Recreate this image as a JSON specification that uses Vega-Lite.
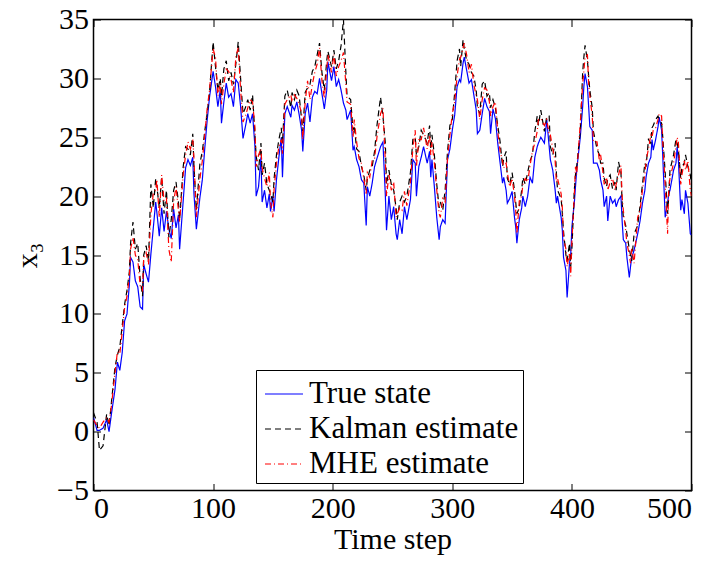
{
  "$schema": "https://vega.github.io/schema/vega-lite/v6.json",
  "autosize": "none",
  "width": 598,
  "height": 471,
  "padding": {"left": 93.5, "top": 19.5, "right": 28.5, "bottom": 71.5},
  "background": "white",
  "config": {
    "view": {"stroke": "black", "strokeWidth": 1.5},
    "font": "Liberation Serif",
    "axis": {"grid": false, "domain": false, "tickColor": "black", "tickWidth": 1, "labelFont": "Liberation Serif", "labelFontSize": 30, "labelColor": "black", "titleFont": "Liberation Serif", "titleFontSize": 30, "titleColor": "black", "titleFontWeight": "normal"},
    "legend": {"strokeColor": "black", "fillColor": "white", "padding": 4, "rowPadding": -1, "labelFont": "Liberation Serif", "labelFontSize": 31, "labelColor": "black", "symbolType": "stroke", "symbolSize": 1444, "symbolStrokeWidth": 1.2, "symbolOffset": 4, "labelOffset": 5, "labelLimit": 400}
  },
  "data": {"values": [
{"t":0,"true":1.2,"kalman":1.6,"mhe":1.0},
{"t":3,"true":0.1,"kalman":0.8,"mhe":0.5},
{"t":5,"true":0.1,"kalman":-1.6,"mhe":0.3},
{"t":8,"true":0.3,"kalman":-1.2,"mhe":0.8},
{"t":11,"true":1.0,"kalman":1.5,"mhe":1.2},
{"t":13,"true":0.0,"kalman":0.5,"mhe":0.8},
{"t":15,"true":1.5,"kalman":2.5,"mhe":2.2},
{"t":18,"true":3.6,"kalman":5.5,"mhe":5.0},
{"t":20,"true":5.9,"kalman":6.5,"mhe":6.8},
{"t":22,"true":5.2,"kalman":7.2,"mhe":6.6},
{"t":24,"true":6.7,"kalman":9.0,"mhe":8.5},
{"t":26,"true":9.4,"kalman":10.8,"mhe":10.5},
{"t":28,"true":10.0,"kalman":12.0,"mhe":11.5},
{"t":30,"true":12.5,"kalman":13.6,"mhe":13.2},
{"t":31,"true":14.8,"kalman":16.0,"mhe":15.5},
{"t":33,"true":14.4,"kalman":17.8,"mhe":16.5},
{"t":35,"true":12.8,"kalman":15.5,"mhe":15.0},
{"t":37,"true":12.3,"kalman":16.0,"mhe":14.6},
{"t":39,"true":10.6,"kalman":13.0,"mhe":12.4},
{"t":41,"true":10.4,"kalman":11.5,"mhe":12.0},
{"t":42,"true":14.2,"kalman":15.0,"mhe":14.8},
{"t":44,"true":13.4,"kalman":15.8,"mhe":15.2},
{"t":46,"true":12.7,"kalman":14.5,"mhe":14.2},
{"t":48,"true":15.1,"kalman":21.0,"mhe":18.5},
{"t":50,"true":17.3,"kalman":19.0,"mhe":20.2},
{"t":52,"true":19.5,"kalman":21.5,"mhe":20.5},
{"t":53,"true":18.6,"kalman":20.8,"mhe":21.4},
{"t":55,"true":16.6,"kalman":19.0,"mhe":18.2},
{"t":57,"true":19.0,"kalman":21.6,"mhe":21.8},
{"t":59,"true":17.0,"kalman":18.5,"mhe":19.6},
{"t":61,"true":18.7,"kalman":20.5,"mhe":19.8},
{"t":63,"true":17.2,"kalman":16.5,"mhe":15.5},
{"t":65,"true":16.4,"kalman":18.0,"mhe":14.4},
{"t":67,"true":18.9,"kalman":20.5,"mhe":19.5},
{"t":69,"true":17.3,"kalman":21.2,"mhe":20.8},
{"t":71,"true":18.4,"kalman":19.5,"mhe":18.8},
{"t":72,"true":15.5,"kalman":18.0,"mhe":17.8},
{"t":75,"true":19.6,"kalman":22.5,"mhe":21.8},
{"t":77,"true":22.4,"kalman":24.2,"mhe":23.5},
{"t":79,"true":23.1,"kalman":24.0,"mhe":24.6},
{"t":81,"true":22.6,"kalman":23.5,"mhe":24.0},
{"t":83,"true":23.3,"kalman":25.3,"mhe":24.8},
{"t":84,"true":20.2,"kalman":22.5,"mhe":23.2},
{"t":86,"true":17.2,"kalman":18.8,"mhe":18.2},
{"t":89,"true":19.9,"kalman":22.8,"mhe":21.5},
{"t":91,"true":21.4,"kalman":23.8,"mhe":23.0},
{"t":93,"true":24.0,"kalman":25.5,"mhe":25.2},
{"t":95,"true":26.4,"kalman":27.0,"mhe":27.4},
{"t":97,"true":28.4,"kalman":28.8,"mhe":29.0},
{"t":100,"true":30.6,"kalman":33.1,"mhe":32.5},
{"t":102,"true":29.3,"kalman":31.0,"mhe":31.8},
{"t":104,"true":27.6,"kalman":29.0,"mhe":28.5},
{"t":106,"true":29.0,"kalman":30.0,"mhe":29.6},
{"t":107,"true":26.2,"kalman":28.5,"mhe":27.8},
{"t":109,"true":28.0,"kalman":30.8,"mhe":29.5},
{"t":111,"true":29.6,"kalman":31.5,"mhe":30.8},
{"t":113,"true":28.4,"kalman":29.8,"mhe":30.6},
{"t":115,"true":28.7,"kalman":30.5,"mhe":29.9},
{"t":117,"true":27.6,"kalman":29.5,"mhe":28.8},
{"t":119,"true":29.9,"kalman":31.2,"mhe":31.8},
{"t":121,"true":29.6,"kalman":33.1,"mhe":32.6},
{"t":123,"true":27.6,"kalman":30.0,"mhe":29.0},
{"t":125,"true":24.9,"kalman":27.0,"mhe":26.3},
{"t":127,"true":25.9,"kalman":27.5,"mhe":26.8},
{"t":129,"true":27.0,"kalman":28.2,"mhe":27.5},
{"t":131,"true":26.2,"kalman":27.3,"mhe":28.2},
{"t":133,"true":27.0,"kalman":28.6,"mhe":28.0},
{"t":135,"true":24.2,"kalman":25.2,"mhe":25.8},
{"t":136,"true":20.0,"kalman":23.4,"mhe":22.5},
{"t":138,"true":20.8,"kalman":22.2,"mhe":23.5},
{"t":140,"true":23.3,"kalman":24.5,"mhe":24.0},
{"t":141,"true":19.5,"kalman":21.8,"mhe":22.4},
{"t":143,"true":20.5,"kalman":22.8,"mhe":21.5},
{"t":145,"true":19.0,"kalman":21.0,"mhe":20.8},
{"t":147,"true":20.2,"kalman":20.5,"mhe":22.0},
{"t":148,"true":18.7,"kalman":20.2,"mhe":19.5},
{"t":150,"true":20.0,"kalman":19.5,"mhe":18.2},
{"t":151,"true":18.7,"kalman":21.5,"mhe":20.6},
{"t":153,"true":21.4,"kalman":23.5,"mhe":22.8},
{"t":155,"true":23.3,"kalman":24.8,"mhe":24.2},
{"t":157,"true":25.0,"kalman":25.8,"mhe":24.8},
{"t":158,"true":21.6,"kalman":24.5,"mhe":23.6},
{"t":160,"true":27.0,"kalman":28.5,"mhe":27.8},
{"t":162,"true":27.6,"kalman":29.0,"mhe":28.2},
{"t":165,"true":26.7,"kalman":27.5,"mhe":28.6},
{"t":166,"true":27.7,"kalman":28.8,"mhe":28.0},
{"t":168,"true":27.3,"kalman":28.2,"mhe":28.6},
{"t":170,"true":28.0,"kalman":29.0,"mhe":28.3},
{"t":172,"true":26.9,"kalman":28.5,"mhe":27.8},
{"t":174,"true":25.6,"kalman":26.5,"mhe":27.0},
{"t":175,"true":23.8,"kalman":25.5,"mhe":24.8},
{"t":177,"true":27.0,"kalman":28.8,"mhe":28.0},
{"t":179,"true":27.9,"kalman":29.2,"mhe":29.8},
{"t":181,"true":26.3,"kalman":29.5,"mhe":28.2},
{"t":183,"true":28.4,"kalman":30.6,"mhe":29.5},
{"t":185,"true":28.9,"kalman":31.0,"mhe":30.5},
{"t":187,"true":28.7,"kalman":32.0,"mhe":31.2},
{"t":189,"true":30.0,"kalman":33.0,"mhe":32.6},
{"t":191,"true":28.7,"kalman":30.5,"mhe":29.8},
{"t":193,"true":27.4,"kalman":29.0,"mhe":28.3},
{"t":195,"true":29.0,"kalman":31.5,"mhe":30.8},
{"t":196,"true":31.4,"kalman":32.3,"mhe":32.0},
{"t":199,"true":29.8,"kalman":31.0,"mhe":30.5},
{"t":201,"true":31.0,"kalman":32.4,"mhe":32.0},
{"t":203,"true":29.3,"kalman":30.8,"mhe":30.2},
{"t":205,"true":29.9,"kalman":31.5,"mhe":31.0},
{"t":207,"true":29.0,"kalman":32.8,"mhe":31.5},
{"t":209,"true":27.9,"kalman":35.0,"mhe":32.2},
{"t":211,"true":27.3,"kalman":30.5,"mhe":29.5},
{"t":212,"true":26.5,"kalman":28.5,"mhe":28.0},
{"t":215,"true":27.3,"kalman":28.2,"mhe":27.8},
{"t":217,"true":23.9,"kalman":25.6,"mhe":25.0},
{"t":218,"true":24.2,"kalman":26.0,"mhe":26.5},
{"t":220,"true":23.1,"kalman":24.0,"mhe":24.6},
{"t":222,"true":22.5,"kalman":23.8,"mhe":23.2},
{"t":224,"true":21.4,"kalman":22.5,"mhe":22.8},
{"t":226,"true":21.1,"kalman":21.8,"mhe":21.5},
{"t":228,"true":17.5,"kalman":20.5,"mhe":20.2},
{"t":229,"true":20.8,"kalman":21.5,"mhe":22.0},
{"t":231,"true":20.0,"kalman":22.2,"mhe":21.6},
{"t":233,"true":21.1,"kalman":22.5,"mhe":23.0},
{"t":235,"true":22.5,"kalman":23.8,"mhe":23.2},
{"t":237,"true":23.2,"kalman":26.0,"mhe":25.0},
{"t":240,"true":24.2,"kalman":28.4,"mhe":27.0},
{"t":242,"true":24.6,"kalman":26.8,"mhe":27.5},
{"t":244,"true":20.1,"kalman":24.5,"mhe":23.0},
{"t":245,"true":17.1,"kalman":21.0,"mhe":20.0},
{"t":247,"true":20.0,"kalman":22.2,"mhe":21.8},
{"t":249,"true":18.0,"kalman":21.0,"mhe":20.5},
{"t":251,"true":19.1,"kalman":20.5,"mhe":21.2},
{"t":253,"true":16.8,"kalman":19.0,"mhe":18.2},
{"t":254,"true":16.3,"kalman":18.0,"mhe":18.5},
{"t":256,"true":18.0,"kalman":19.5,"mhe":19.0},
{"t":258,"true":16.8,"kalman":20.0,"mhe":18.8},
{"t":260,"true":19.1,"kalman":19.5,"mhe":20.4},
{"t":262,"true":18.0,"kalman":20.0,"mhe":19.2},
{"t":265,"true":19.7,"kalman":22.0,"mhe":21.2},
{"t":267,"true":23.1,"kalman":24.8,"mhe":24.0},
{"t":269,"true":22.8,"kalman":25.0,"mhe":25.6},
{"t":270,"true":20.0,"kalman":23.5,"mhe":22.5},
{"t":272,"true":22.5,"kalman":24.2,"mhe":24.8},
{"t":274,"true":23.3,"kalman":25.6,"mhe":24.8},
{"t":276,"true":24.2,"kalman":25.2,"mhe":25.8},
{"t":279,"true":22.8,"kalman":24.5,"mhe":24.0},
{"t":281,"true":23.8,"kalman":26.0,"mhe":25.2},
{"t":282,"true":21.6,"kalman":24.0,"mhe":23.5},
{"t":283,"true":23.1,"kalman":25.2,"mhe":24.6},
{"t":285,"true":20.8,"kalman":23.5,"mhe":22.8},
{"t":287,"true":18.2,"kalman":21.0,"mhe":20.5},
{"t":289,"true":16.3,"kalman":19.0,"mhe":18.5},
{"t":290,"true":17.4,"kalman":19.5,"mhe":18.2},
{"t":292,"true":18.0,"kalman":18.8,"mhe":19.8},
{"t":294,"true":17.7,"kalman":20.5,"mhe":19.5},
{"t":296,"true":23.1,"kalman":23.8,"mhe":23.2},
{"t":298,"true":24.0,"kalman":26.0,"mhe":25.2},
{"t":300,"true":25.6,"kalman":26.5,"mhe":27.0},
{"t":302,"true":26.9,"kalman":28.8,"mhe":28.0},
{"t":304,"true":29.3,"kalman":31.5,"mhe":30.2},
{"t":306,"true":29.9,"kalman":32.5,"mhe":31.6},
{"t":307,"true":29.7,"kalman":31.0,"mhe":31.8},
{"t":309,"true":31.3,"kalman":33.3,"mhe":32.6},
{"t":310,"true":31.8,"kalman":32.5,"mhe":33.0},
{"t":312,"true":30.7,"kalman":31.5,"mhe":32.0},
{"t":314,"true":29.6,"kalman":31.2,"mhe":30.5},
{"t":316,"true":29.9,"kalman":30.5,"mhe":31.2},
{"t":318,"true":28.6,"kalman":30.2,"mhe":29.5},
{"t":320,"true":27.3,"kalman":29.0,"mhe":28.5},
{"t":321,"true":25.3,"kalman":27.5,"mhe":28.2},
{"t":323,"true":25.6,"kalman":27.0,"mhe":26.5},
{"t":325,"true":27.0,"kalman":29.5,"mhe":28.2},
{"t":327,"true":28.3,"kalman":29.8,"mhe":29.2},
{"t":329,"true":27.6,"kalman":28.5,"mhe":29.0},
{"t":331,"true":27.2,"kalman":28.8,"mhe":28.0},
{"t":332,"true":25.3,"kalman":27.5,"mhe":26.8},
{"t":334,"true":27.4,"kalman":28.2,"mhe":27.6},
{"t":336,"true":26.6,"kalman":27.5,"mhe":28.0},
{"t":338,"true":24.5,"kalman":26.0,"mhe":25.5},
{"t":340,"true":22.8,"kalman":24.6,"mhe":23.8},
{"t":342,"true":21.1,"kalman":22.5,"mhe":23.0},
{"t":343,"true":21.6,"kalman":23.2,"mhe":22.4},
{"t":345,"true":20.5,"kalman":23.8,"mhe":22.8},
{"t":346,"true":19.4,"kalman":21.5,"mhe":22.0},
{"t":348,"true":19.8,"kalman":21.0,"mhe":20.8},
{"t":350,"true":20.4,"kalman":22.0,"mhe":21.5},
{"t":352,"true":18.2,"kalman":20.5,"mhe":20.0},
{"t":353,"true":17.4,"kalman":19.5,"mhe":18.8},
{"t":354,"true":16.0,"kalman":18.5,"mhe":16.8},
{"t":356,"true":18.0,"kalman":19.0,"mhe":19.6},
{"t":358,"true":19.0,"kalman":20.5,"mhe":20.0},
{"t":359,"true":20.0,"kalman":21.6,"mhe":21.0},
{"t":361,"true":19.1,"kalman":21.0,"mhe":21.5},
{"t":363,"true":20.0,"kalman":22.0,"mhe":21.2},
{"t":365,"true":21.6,"kalman":23.0,"mhe":22.6},
{"t":367,"true":21.1,"kalman":23.5,"mhe":23.8},
{"t":369,"true":23.3,"kalman":25.5,"mhe":24.5},
{"t":371,"true":24.2,"kalman":26.8,"mhe":25.5},
{"t":372,"true":24.5,"kalman":26.0,"mhe":26.5},
{"t":374,"true":25.0,"kalman":27.3,"mhe":26.6},
{"t":377,"true":24.5,"kalman":25.5,"mhe":26.0},
{"t":379,"true":26.5,"kalman":26.8,"mhe":26.5},
{"t":381,"true":24.2,"kalman":26.8,"mhe":25.2},
{"t":382,"true":23.1,"kalman":24.2,"mhe":25.2},
{"t":384,"true":22.2,"kalman":23.5,"mhe":24.0},
{"t":386,"true":20.5,"kalman":24.5,"mhe":23.0},
{"t":387,"true":19.4,"kalman":22.0,"mhe":21.2},
{"t":388,"true":20.0,"kalman":20.5,"mhe":21.5},
{"t":391,"true":18.2,"kalman":19.8,"mhe":20.2},
{"t":392,"true":17.1,"kalman":18.5,"mhe":19.0},
{"t":393,"true":14.8,"kalman":17.0,"mhe":16.5},
{"t":395,"true":13.7,"kalman":15.0,"mhe":15.5},
{"t":396,"true":11.4,"kalman":14.5,"mhe":14.0},
{"t":398,"true":14.3,"kalman":16.0,"mhe":15.2},
{"t":399,"true":15.0,"kalman":14.0,"mhe":13.2},
{"t":400,"true":17.4,"kalman":15.5,"mhe":16.2},
{"t":402,"true":19.4,"kalman":20.5,"mhe":20.0},
{"t":403,"true":20.8,"kalman":21.8,"mhe":22.5},
{"t":404,"true":22.2,"kalman":22.5,"mhe":21.8},
{"t":407,"true":25.0,"kalman":25.5,"mhe":26.2},
{"t":409,"true":27.6,"kalman":30.5,"mhe":29.5},
{"t":410,"true":29.3,"kalman":31.8,"mhe":30.6},
{"t":411,"true":30.4,"kalman":32.8,"mhe":31.8},
{"t":413,"true":29.3,"kalman":31.5,"mhe":32.0},
{"t":414,"true":27.6,"kalman":30.2,"mhe":29.5},
{"t":415,"true":25.9,"kalman":29.0,"mhe":28.5},
{"t":417,"true":25.6,"kalman":27.5,"mhe":26.8},
{"t":418,"true":22.8,"kalman":25.5,"mhe":24.6},
{"t":421,"true":22.8,"kalman":24.0,"mhe":24.6},
{"t":423,"true":22.2,"kalman":23.5,"mhe":23.0},
{"t":424,"true":21.4,"kalman":22.8,"mhe":23.5},
{"t":426,"true":20.5,"kalman":22.8,"mhe":22.0},
{"t":427,"true":19.1,"kalman":21.5,"mhe":21.0},
{"t":429,"true":20.0,"kalman":20.8,"mhe":21.6},
{"t":430,"true":17.9,"kalman":21.5,"mhe":20.5},
{"t":432,"true":20.0,"kalman":21.8,"mhe":21.2},
{"t":434,"true":19.4,"kalman":20.6,"mhe":21.5},
{"t":436,"true":19.7,"kalman":21.2,"mhe":20.5},
{"t":437,"true":19.1,"kalman":20.5,"mhe":21.0},
{"t":439,"true":19.7,"kalman":22.9,"mhe":21.8},
{"t":441,"true":20.0,"kalman":22.0,"mhe":22.6},
{"t":442,"true":17.9,"kalman":19.5,"mhe":20.0},
{"t":443,"true":16.3,"kalman":18.2,"mhe":18.8},
{"t":445,"true":16.0,"kalman":17.5,"mhe":17.0},
{"t":446,"true":14.8,"kalman":16.8,"mhe":16.0},
{"t":448,"true":13.1,"kalman":15.5,"mhe":15.0},
{"t":449,"true":14.0,"kalman":15.0,"mhe":14.3},
{"t":450,"true":14.8,"kalman":14.5,"mhe":15.6},
{"t":452,"true":15.4,"kalman":16.8,"mhe":14.3},
{"t":455,"true":16.8,"kalman":17.5,"mhe":18.2},
{"t":457,"true":17.9,"kalman":19.2,"mhe":18.8},
{"t":459,"true":19.4,"kalman":21.0,"mhe":20.5},
{"t":461,"true":20.5,"kalman":22.8,"mhe":21.8},
{"t":462,"true":21.6,"kalman":22.5,"mhe":23.0},
{"t":464,"true":22.8,"kalman":24.8,"mhe":24.0},
{"t":466,"true":23.3,"kalman":24.5,"mhe":25.2},
{"t":467,"true":24.8,"kalman":25.8,"mhe":25.0},
{"t":468,"true":23.9,"kalman":26.0,"mhe":25.6},
{"t":470,"true":24.8,"kalman":26.5,"mhe":25.8},
{"t":472,"true":25.9,"kalman":26.8,"mhe":26.5},
{"t":473,"true":26.7,"kalman":26.5,"mhe":27.0},
{"t":475,"true":25.6,"kalman":26.2,"mhe":26.8},
{"t":476,"true":23.3,"kalman":25.0,"mhe":24.5},
{"t":478,"true":18.2,"kalman":22.0,"mhe":21.0},
{"t":480,"true":19.4,"kalman":18.5,"mhe":16.8},
{"t":481,"true":20.2,"kalman":20.0,"mhe":20.8},
{"t":482,"true":20.5,"kalman":22.2,"mhe":21.5},
{"t":485,"true":22.2,"kalman":23.5,"mhe":22.8},
{"t":487,"true":22.8,"kalman":24.8,"mhe":24.2},
{"t":488,"true":24.2,"kalman":24.5,"mhe":25.0},
{"t":489,"true":23.1,"kalman":24.0,"mhe":24.6},
{"t":491,"true":18.8,"kalman":21.5,"mhe":21.0},
{"t":492,"true":19.7,"kalman":22.5,"mhe":21.8},
{"t":494,"true":18.5,"kalman":22.8,"mhe":23.0},
{"t":495,"true":20.5,"kalman":23.5,"mhe":22.2},
{"t":497,"true":19.4,"kalman":22.5,"mhe":23.0},
{"t":499,"true":16.8,"kalman":21.8,"mhe":20.5},
{"t":500,"true":16.7,"kalman":21.0,"mhe":20.0}
  ]},
  "transform": [{"fold": ["true", "kalman", "mhe"], "as": ["series", "value"]}],
  "layer": [
    {
      "mark": {"type": "line", "strokeWidth": 1.2, "clip": true},
      "encoding": {
        "x": {"field": "t", "type": "quantitative", "scale": {"domain": [0, 500], "nice": false}, "axis": {"values": [0, 100, 200, 300, 400, 500], "title": "Time step", "tickSize": -7, "labelPadding": 10, "titlePadding": 1}},
        "y": {"field": "value", "type": "quantitative", "scale": {"domain": [-5, 35], "nice": false}, "axis": {"values": [-5, 0, 5, 10, 15, 20, 25, 30, 35], "title": "x₃", "tickSize": -7, "labelPadding": 12, "titlePadding": 14}},
        "color": {"field": "series", "type": "nominal", "scale": {"domain": ["true", "kalman", "mhe"], "range": ["#0000ff", "#000000", "#ff0000"]}, "legend": {"title": null, "orient": "none", "legendX": 162.5, "legendY": 350.5, "labelFont": "Liberation Serif", "labelExpr": "datum.value == 'true' ? 'True state' : datum.value == 'kalman' ? 'Kalman estimate' : 'MHE estimate'"}},
        "strokeDash": {"field": "series", "type": "nominal", "scale": {"domain": ["true", "kalman", "mhe"], "range": [[1, 0], [6, 4], [6, 3, 1, 3]]}, "legend": {"title": null, "orient": "none", "legendX": 162.5, "legendY": 350.5, "labelFont": "Liberation Serif", "labelExpr": "datum.value == 'true' ? 'True state' : datum.value == 'kalman' ? 'Kalman estimate' : 'MHE estimate'"}}
      }
    },
    {
      "mark": {"type": "line", "opacity": 0},
      "encoding": {
        "x": {"field": "t", "type": "quantitative", "axis": {"orient": "top", "values": [0, 100, 200, 300, 400, 500], "labels": false, "title": null, "tickSize": -7}},
        "y": {"field": "value", "type": "quantitative", "axis": {"orient": "right", "values": [-5, 0, 5, 10, 15, 20, 25, 30, 35], "labels": false, "title": null, "tickSize": -7}},
        "detail": {"field": "series"}
      }
    }
  ],
  "resolve": {"axis": {"x": "independent", "y": "independent"}}
}
